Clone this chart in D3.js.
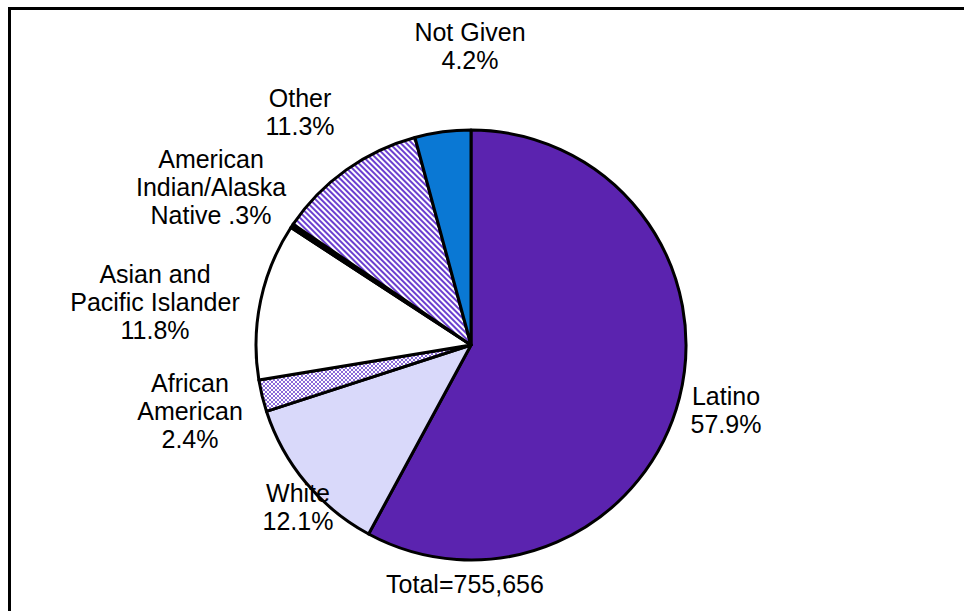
<!DOCTYPE html>
<html>
<head>
<meta charset="utf-8">
<script src="https://cdn.jsdelivr.net/npm/d3@7"></script>
<style>
  html, body { margin: 0; padding: 0; background: #fff; }
  svg { display: block; }
  text { font-family: "Liberation Sans", Arial, sans-serif; font-size: 25px; fill: #000; }
</style>
</head>
<body>
<svg id="chart" width="964" height="611"></svg>
<script>
// Enrollment by ethnicity (percent of total)
const categories = ["Latino", "White", "African American", "Asian and Pacific Islander",
                    "American Indian/Alaska Native", "Other", "Not Given"];
const shares = [57.9, 12.1, 2.4, 11.8, 0.3, 11.3, 4.2];
const labelLines = [
  ["Latino", "57.9%"],
  ["White", "12.1%"],
  ["African", "American", "2.4%"],
  ["Asian and", "Pacific Islander", "11.8%"],
  ["American", "Indian/Alaska", "Native .3%"],
  ["Other", "11.3%"],
  ["Not Given", "4.2%"]
];
const totalLabel = "Total=755,656";

const svg = d3.select("#chart");
const defs = svg.append("defs");

// checkered fill
const chk = defs.append("pattern").attr("id", "checker")
  .attr("width", 4).attr("height", 4).attr("patternUnits", "userSpaceOnUse");
chk.append("rect").attr("width", 4).attr("height", 4).attr("fill", "#fff");
chk.append("rect").attr("width", 2).attr("height", 2).attr("fill", "#8a6ad8");
chk.append("rect").attr("x", 2).attr("y", 2).attr("width", 2).attr("height", 2).attr("fill", "#8a6ad8");

// diagonal hatch fill
const hatch = defs.append("pattern").attr("id", "hatch")
  .attr("width", 4).attr("height", 4).attr("patternUnits", "userSpaceOnUse")
  .attr("patternTransform", "rotate(-45)");
hatch.append("rect").attr("width", 4).attr("height", 4).attr("fill", "#fff");
hatch.append("rect").attr("width", 2).attr("height", 4).attr("fill", "#6b3fd0");

const fills = ["#5b23af", "#d9d9fa", "url(#checker)", "#ffffff", "#000000", "url(#hatch)", "#0a78d4"];

// outer frame
svg.append("rect").attr("x", 9.5).attr("y", 8.5).attr("width", 1000).attr("height", 700)
  .attr("fill", "none").attr("stroke", "#000").attr("stroke-width", 3);

const cx = 471, cy = 345, r = 215;
const pie = d3.pie().sort(null).value(d => d)(shares);
const arc = d3.arc().innerRadius(0).outerRadius(r);

const g = svg.append("g").attr("transform", `translate(${cx},${cy})`);
g.selectAll("path").data(pie).join("path")
  .attr("d", arc)
  .attr("fill", (d, i) => fills[i])
  .attr("stroke", "#000")
  .attr("stroke-width", 3)
  .attr("stroke-linejoin", "round");

// label anchors: centre x and first baseline
const labelPos = [
  [726, 405], [298, 502], [190, 392], [155, 283], [211, 168], [300, 107], [470, 41]
];
const lineH = 28;
labelLines.forEach((lines, i) => {
  const t = svg.append("text").attr("text-anchor", "middle");
  lines.forEach((s, j) => {
    t.append("tspan").attr("x", labelPos[i][0]).attr("y", labelPos[i][1] + j * lineH).text(s);
  });
});

svg.append("text").attr("text-anchor", "middle").attr("x", 465).attr("y", 593).text(totalLabel);
</script>
</body>
</html>
